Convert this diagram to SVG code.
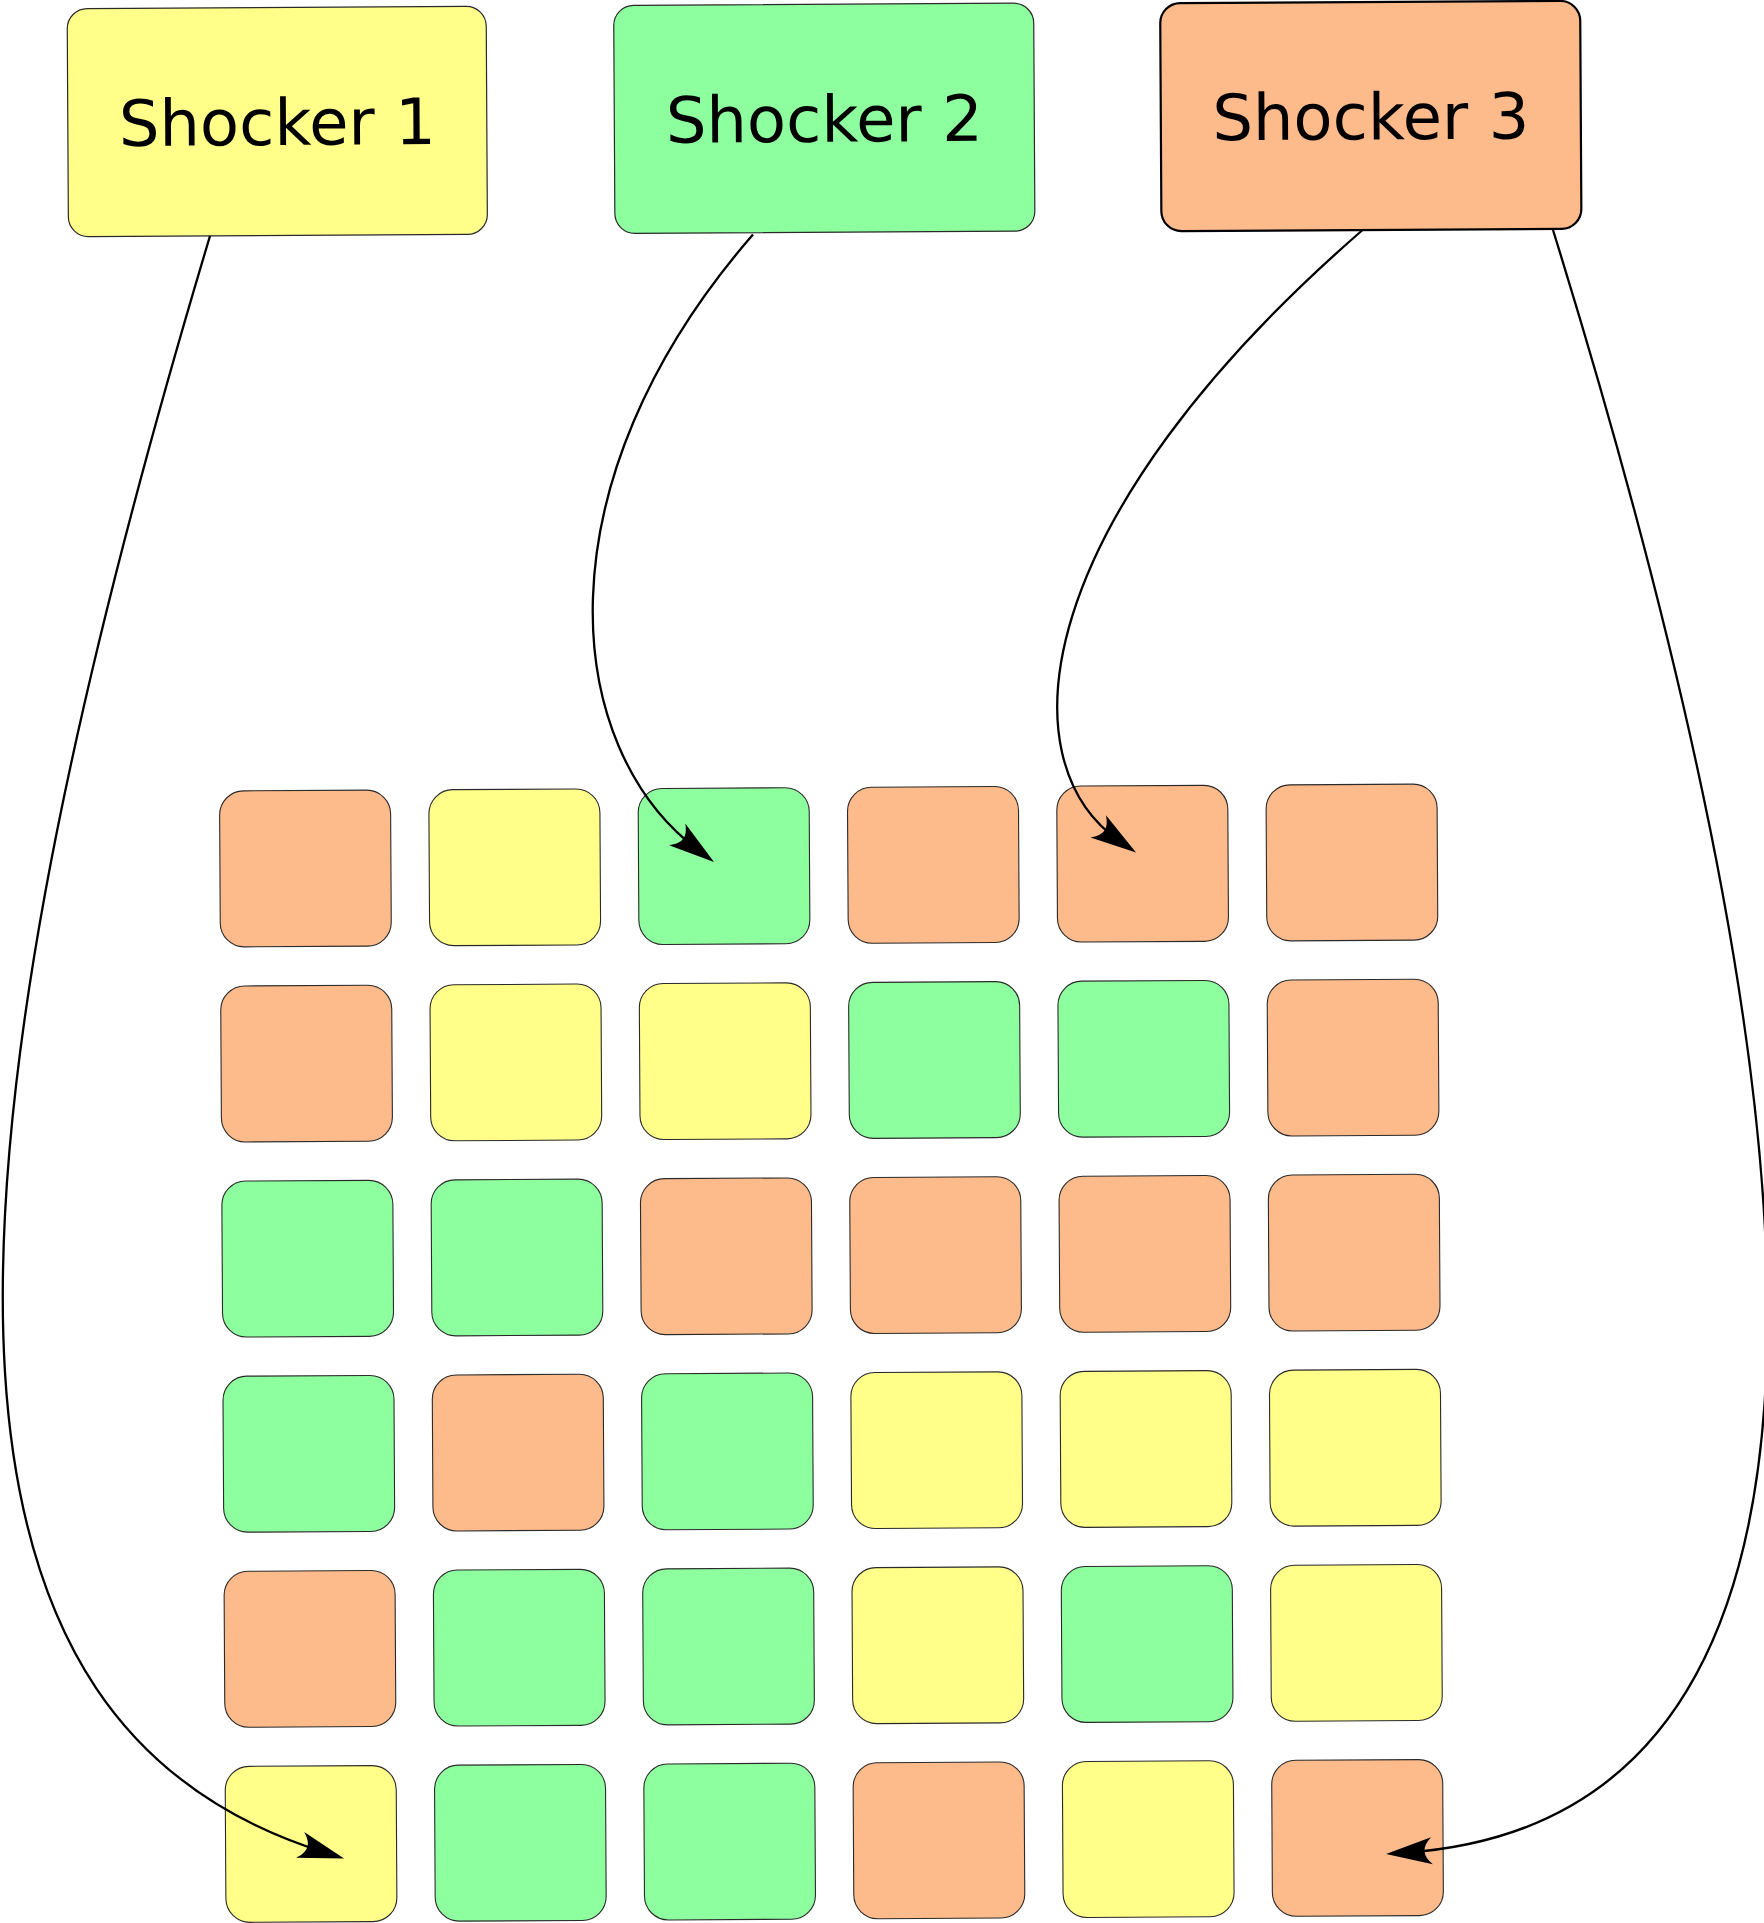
<svg xmlns="http://www.w3.org/2000/svg" width="1764" height="1923" viewBox="0 0 1764 1923">
<style>
.y{fill:#ffff8a}
.g{fill:#8dff9e}
.o{fill:#fdba8b}
.tile{stroke:#2a2a2a;stroke-width:1.1}
.box{stroke:#2a2a2a;stroke-width:1.2}
.box.thick{stroke:#000;stroke-width:2.2}
.lbl{font-family:"DejaVu Sans","Liberation Sans",sans-serif;font-size:64px;fill:#000;text-anchor:middle}
.conn{fill:none;stroke:#000;stroke-width:2.3}
</style>
<defs>
<marker id="ah" markerUnits="userSpaceOnUse" orient="auto" refX="-20" refY="0" markerWidth="1" markerHeight="1" overflow="visible">
<path d="M0,0 L-46,-13.5 C-36,-4 -36,4 -46,13.5 Z" fill="#000"/>
</marker>
</defs>
<rect width="1764" height="1923" fill="#fff"/>
<g id="shocker1" transform="rotate(-0.33 277.3 121.5)">
<rect class="box y" x="67.8" y="7.5" width="419" height="228" rx="20"/>
<text class="lbl" x="277.3" y="145">Shocker 1</text>
</g>
<g id="shocker2" transform="rotate(-0.33 824.3 118.3)">
<rect class="box g" x="614.3" y="4.3" width="420" height="228" rx="20"/>
<text class="lbl" x="824.3" y="141.8">Shocker 2</text>
</g>
<g id="shocker3" transform="rotate(-0.33 1370.8 116)">
<rect class="box thick o" x="1160.8" y="2" width="420" height="228" rx="20"/>
<text class="lbl" x="1370.8" y="139.4">Shocker 3</text>
</g>
<g id="grid" transform="translate(219.5 791) rotate(-0.33)">
<g id="t00"><rect class="tile o" x="0" y="0" width="171" height="156" rx="24"/></g>
<g id="t01"><rect class="tile y" x="209.3" y="0" width="171" height="156" rx="24"/></g>
<g id="t02"><rect class="tile g" x="418.6" y="0" width="171" height="156" rx="24"/></g>
<g id="t03"><rect class="tile o" x="627.9" y="0" width="171" height="156" rx="24"/></g>
<g id="t04"><rect class="tile o" x="837.2" y="0" width="171" height="156" rx="24"/></g>
<g id="t05"><rect class="tile o" x="1046.5" y="0" width="171" height="156" rx="24"/></g>
<g id="t10"><rect class="tile o" x="0" y="195.1" width="171" height="156" rx="24"/></g>
<g id="t11"><rect class="tile y" x="209.3" y="195.1" width="171" height="156" rx="24"/></g>
<g id="t12"><rect class="tile y" x="418.6" y="195.1" width="171" height="156" rx="24"/></g>
<g id="t13"><rect class="tile g" x="627.9" y="195.1" width="171" height="156" rx="24"/></g>
<g id="t14"><rect class="tile g" x="837.2" y="195.1" width="171" height="156" rx="24"/></g>
<g id="t15"><rect class="tile o" x="1046.5" y="195.1" width="171" height="156" rx="24"/></g>
<g id="t20"><rect class="tile g" x="0" y="390.2" width="171" height="156" rx="24"/></g>
<g id="t21"><rect class="tile g" x="209.3" y="390.2" width="171" height="156" rx="24"/></g>
<g id="t22"><rect class="tile o" x="418.6" y="390.2" width="171" height="156" rx="24"/></g>
<g id="t23"><rect class="tile o" x="627.9" y="390.2" width="171" height="156" rx="24"/></g>
<g id="t24"><rect class="tile o" x="837.2" y="390.2" width="171" height="156" rx="24"/></g>
<g id="t25"><rect class="tile o" x="1046.5" y="390.2" width="171" height="156" rx="24"/></g>
<g id="t30"><rect class="tile g" x="0" y="585.3" width="171" height="156" rx="24"/></g>
<g id="t31"><rect class="tile o" x="209.3" y="585.3" width="171" height="156" rx="24"/></g>
<g id="t32"><rect class="tile g" x="418.6" y="585.3" width="171" height="156" rx="24"/></g>
<g id="t33"><rect class="tile y" x="627.9" y="585.3" width="171" height="156" rx="24"/></g>
<g id="t34"><rect class="tile y" x="837.2" y="585.3" width="171" height="156" rx="24"/></g>
<g id="t35"><rect class="tile y" x="1046.5" y="585.3" width="171" height="156" rx="24"/></g>
<g id="t40"><rect class="tile o" x="0" y="780.4" width="171" height="156" rx="24"/></g>
<g id="t41"><rect class="tile g" x="209.3" y="780.4" width="171" height="156" rx="24"/></g>
<g id="t42"><rect class="tile g" x="418.6" y="780.4" width="171" height="156" rx="24"/></g>
<g id="t43"><rect class="tile y" x="627.9" y="780.4" width="171" height="156" rx="24"/></g>
<g id="t44"><rect class="tile g" x="837.2" y="780.4" width="171" height="156" rx="24"/></g>
<g id="t45"><rect class="tile y" x="1046.5" y="780.4" width="171" height="156" rx="24"/></g>
<g id="t50"><rect class="tile y" x="0" y="975.5" width="171" height="156" rx="24"/></g>
<g id="t51"><rect class="tile g" x="209.3" y="975.5" width="171" height="156" rx="24"/></g>
<g id="t52"><rect class="tile g" x="418.6" y="975.5" width="171" height="156" rx="24"/></g>
<g id="t53"><rect class="tile o" x="627.9" y="975.5" width="171" height="156" rx="24"/></g>
<g id="t54"><rect class="tile y" x="837.2" y="975.5" width="171" height="156" rx="24"/></g>
<g id="t55"><rect class="tile o" x="1046.5" y="975.5" width="171" height="156" rx="24"/></g>
</g>
<g id="connectors">
<path class="conn" marker-end="url(#ah)" d="M210,236 C-90,1236 -75,1728 325,1852.5"/>
<path class="conn" marker-end="url(#ah)" d="M753,234.5 C535.5,484.5 562,748 698,850"/>
<path class="conn" marker-end="url(#ah)" d="M1362,230.5 C1028.5,520.5 1004.8,761.4 1119.6,841.2"/>
<path class="conn" marker-end="url(#ah)" d="M1553,230 C1863,1230 1856,1821 1406,1852.6"/>
</g>
</svg>
